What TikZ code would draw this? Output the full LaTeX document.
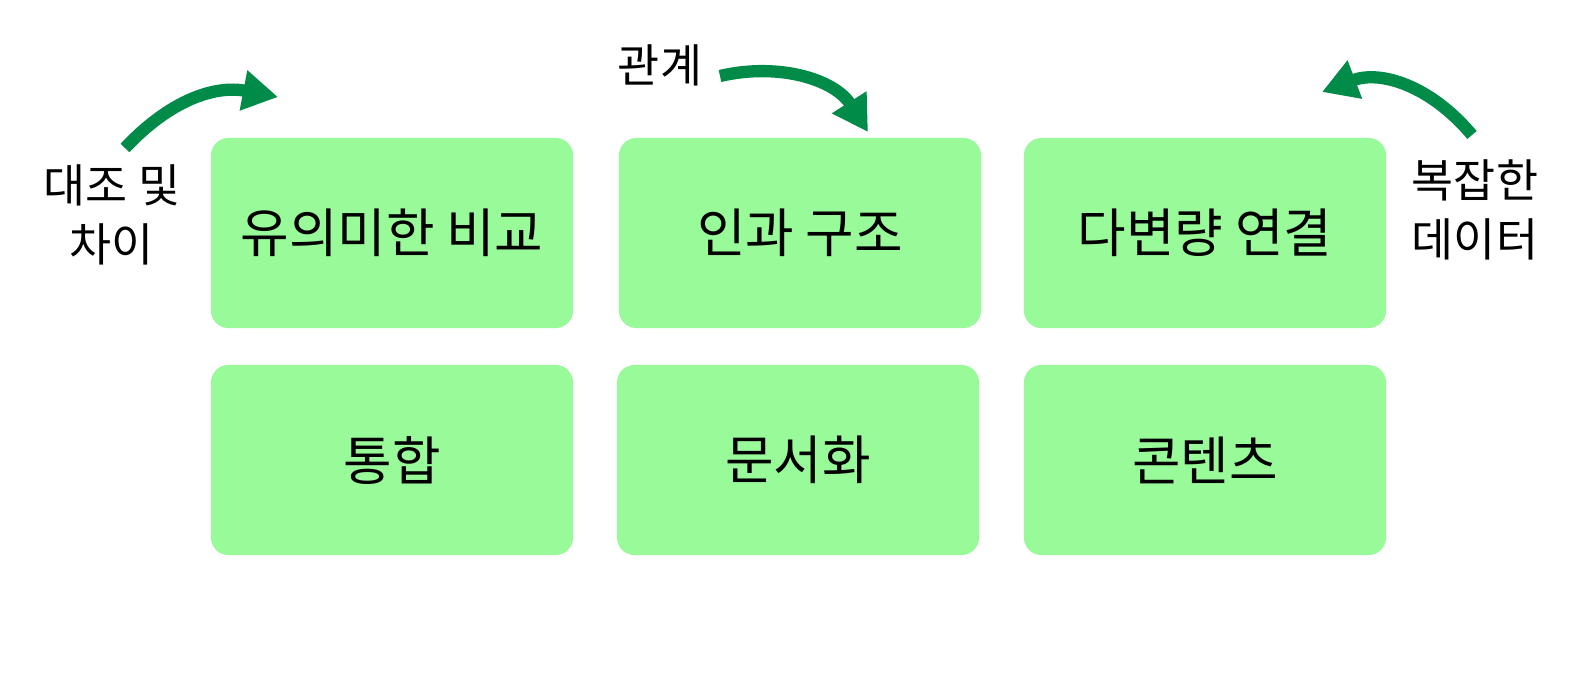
\documentclass[tikz,border=0pt]{standalone}
\usepackage{fontspec}
\setmainfont{Noto Sans CJK KR}
\usetikzlibrary{arrows.meta, positioning}
\definecolor{boxgreen}{RGB}{152,250,152}
\definecolor{arrowgreen}{RGB}{0,140,72}

\begin{document}
\begin{tikzpicture}[x=0.01cm, y=-0.01cm,
    box/.style={fill=boxgreen, draw=none, rounded corners=5pt, minimum width=3.62cm, minimum height=1.9cm, font=\fontsize{15}{17}\selectfont},
    side/.style={align=center, font=\fontsize{13}{17}\selectfont},
    curvearrow/.style={arrowgreen, line width=3.5pt, -{Triangle[length=10pt, width=11pt]}}]
        \fill[white] (0,0) rectangle (1584,672);

        % top row
        \node[box] (comp) at (392,233) {유의미한 비교};
        \node[box] (cause) at (800,233) {인과 구조};
        \node[box] (multi) at (1205,233) {다변량 연결};
        % bottom row
        \node[box] (integ) at (392,460) {통합};
        \node[box] (doc) at (798,460) {문서화};
        \node[box] (cont) at (1205,460) {콘텐츠};

        % side labels
        \node[side] (diff) at (112,215) {대조 및\\차이};
        \node[side] (rel) at (660,65) {관계};
        \node[side] (data) at (1475,210) {복잡한\\데이터};

        \coordinate (a1) at (125,148);
        \coordinate (b1) at (278,97);
        \coordinate (a2) at (720,76);
        \coordinate (b2) at (868,132);
        \coordinate (a3) at (1472,135);
        \coordinate (b3) at (1322,92);

        \draw[curvearrow] (a1) .. controls (170,100) and (215,85) .. (b1);
        \draw[curvearrow] (a2) .. controls (780,62) and (835,80) .. (b2);
        \draw[curvearrow] (a3) .. controls (1430,85) and (1380,70) .. (b3);
\end{tikzpicture}
\end{document}
